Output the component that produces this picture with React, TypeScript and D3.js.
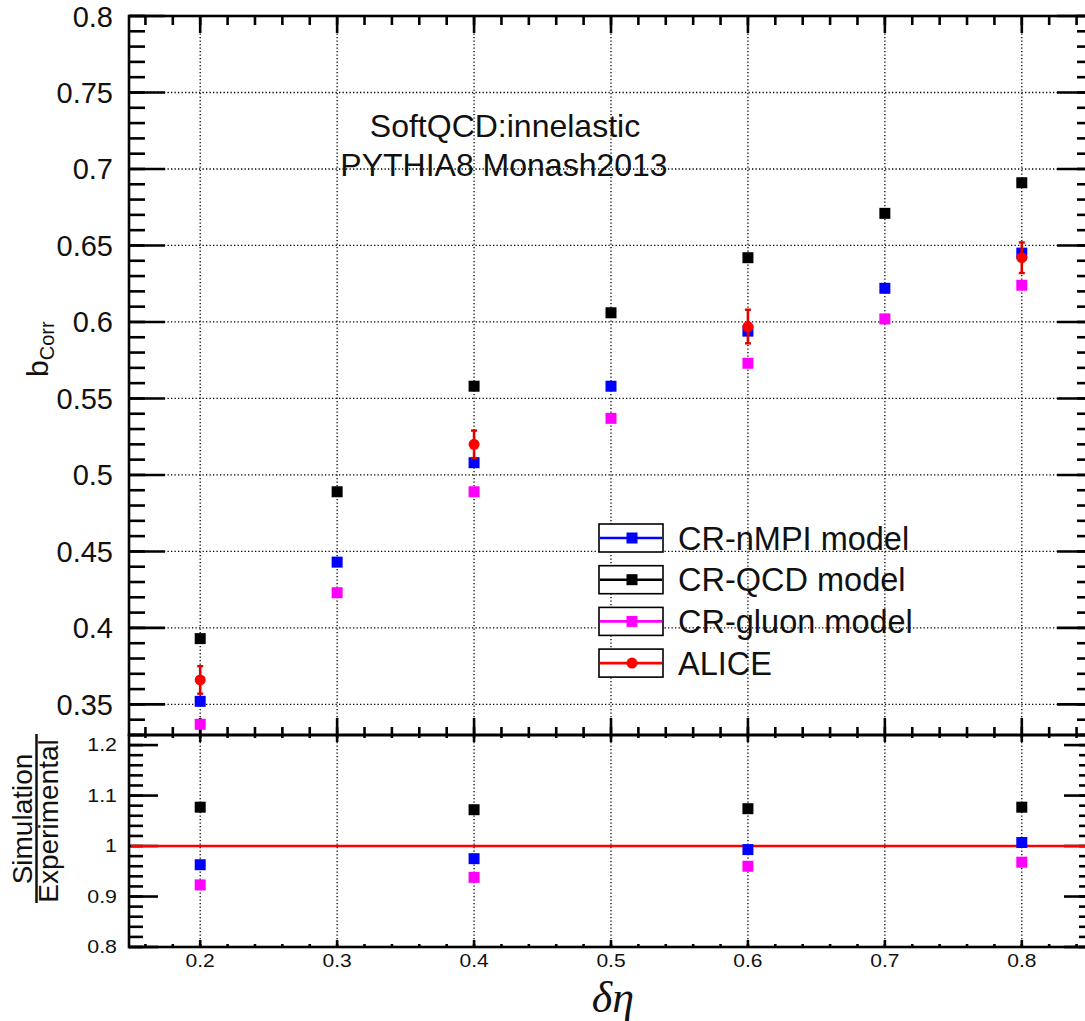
import React from "react";
import * as d3 from "d3";

const deltaEta = [0.2, 0.3, 0.4, 0.5, 0.6, 0.7, 0.8];
const crNMPI = [0.352, 0.443, 0.508, 0.558, 0.594, 0.622, 0.645];
const crQCD = [0.393, 0.489, 0.558, 0.606, 0.642, 0.671, 0.691];
const crGluon = [0.337, 0.423, 0.489, 0.537, 0.573, 0.602, 0.624];

const aliceEta = [0.2, 0.4, 0.6, 0.8];
const alice = [0.366, 0.52, 0.597, 0.642];
const aliceErr = [0.009, 0.009, 0.011, 0.01];

const ratioNMPI = [0.963, 0.975, 0.993, 1.007];
const ratioQCD = [1.077, 1.072, 1.074, 1.077];
const ratioGluon = [0.923, 0.938, 0.96, 0.968];

const xMajor = [0.2, 0.3, 0.4, 0.5, 0.6, 0.7, 0.8];
const xMinor = d3.range(16, 86, 2).map((v) => v / 100);
const yMajor = [0.35, 0.4, 0.45, 0.5, 0.55, 0.6, 0.65, 0.7, 0.75, 0.8];
const yMinor = d3.range(33, 81, 1).map((v) => v / 100);
const rMajor = [0.8, 0.9, 1.0, 1.1, 1.2];
const rMinor = d3.range(80, 123, 2).map((v) => v / 100);

const legendLabels = ["CR-nMPI model", "CR-QCD model", "CR-gluon model", "ALICE"];
const legendColors = ["#0000ff", "#000000", "#ff00ff", "#ff0000"];
const titleLines = ["SoftQCD:innelastic", "PYTHIA8 Monash2013"];

const FONT = "'Liberation Sans', Arial, Helvetica, sans-serif";

export default function App() {
  const W = 1085;
  const H = 1021;
  const x = d3.scaleLinear().domain([0.148, 0.852]).range([129, 1093]);
  const y = d3.scaleLinear().domain([0.33, 0.8]).range([735, 16]);
  const yr = d3.scaleLinear().domain([0.8, 1.22]).range([947, 735]);
  const fmt = d3.format("~g");
  const xL = x.range()[0];
  const xR = x.range()[1];
  const yTop = y.range()[1];
  const yMid = y.range()[0];
  const yBot = yr.range()[0];
  const sq = 11;
  const axisW = 2.6;

  const square = (cx: number, cy: number, color: string, key: string) => (
    <rect key={key} x={cx - sq / 2} y={cy - sq / 2} width={sq} height={sq} fill={color} />
  );

  return (
    <svg
      width={W}
      height={H}
      style={{ position: "absolute", left: 0, top: 0, background: "#fff" }}
      fontFamily={FONT}
    >
      <rect x={0} y={0} width={W} height={H} fill="#fff" />
      {/* grid */}
      <g stroke="#000" strokeWidth={1.3} strokeDasharray="1.3 2.2">
        {yMajor
          .filter((v) => v < 0.8)
          .map((v) => (
            <line key={"gy" + v} x1={xL} x2={xR} y1={y(v)} y2={y(v)} />
          ))}
        {xMajor.map((v) => (
          <line key={"gx" + v} x1={x(v)} x2={x(v)} y1={yTop} y2={yMid} />
        ))}
        {xMajor.map((v) => (
          <line key={"gxr" + v} x1={x(v)} x2={x(v)} y1={yMid} y2={yBot} />
        ))}
      </g>

      {/* ticks */}
      <g stroke="#000" strokeWidth={axisW}>
        {yMinor.map((v) => (
          <g key={"ymi" + v}>
            <line x1={xL} x2={xL + 16} y1={y(v)} y2={y(v)} />
            <line x1={xR} x2={xR - 16} y1={y(v)} y2={y(v)} />
          </g>
        ))}
        {yMajor.map((v) => (
          <g key={"yma" + v}>
            <line x1={xL} x2={xL + 36} y1={y(v)} y2={y(v)} />
            <line x1={xR} x2={xR - 36} y1={y(v)} y2={y(v)} />
          </g>
        ))}
        {xMinor.map((v) => (
          <g key={"xmi" + v}>
            <line x1={x(v)} x2={x(v)} y1={yTop} y2={yTop + 9} />
            <line x1={x(v)} x2={x(v)} y1={yMid} y2={yMid - 8} />
            <line x1={x(v)} x2={x(v)} y1={yMid} y2={yMid + 3} />
            <line x1={x(v)} x2={x(v)} y1={yBot} y2={yBot - 3} />
          </g>
        ))}
        {xMajor.map((v) => (
          <g key={"xma" + v}>
            <line x1={x(v)} x2={x(v)} y1={yTop} y2={yTop + 17} />
            <line x1={x(v)} x2={x(v)} y1={yMid} y2={yMid - 17} />
            <line x1={x(v)} x2={x(v)} y1={yMid} y2={yMid + 7} />
            <line x1={x(v)} x2={x(v)} y1={yBot} y2={yBot - 7} />
          </g>
        ))}
        {rMinor.map((v) => (
          <g key={"rmi" + v}>
            <line x1={xL} x2={xL + 14} y1={yr(v)} y2={yr(v)} />
            <line x1={xR} x2={xR - 14} y1={yr(v)} y2={yr(v)} />
          </g>
        ))}
        {rMajor.map((v) => (
          <g key={"rma" + v}>
            <line x1={xL} x2={xL + 29} y1={yr(v)} y2={yr(v)} />
            <line x1={xR} x2={xR - 29} y1={yr(v)} y2={yr(v)} />
          </g>
        ))}
      </g>

      {/* frames */}
      <rect x={xL} y={yTop} width={xR - xL} height={yMid - yTop} fill="none" stroke="#000" strokeWidth={axisW} />
      <rect x={xL} y={yMid} width={xR - xL} height={yBot - yMid} fill="none" stroke="#000" strokeWidth={axisW} />

      {/* tick labels main */}
      <g fontSize={29} fill="#111" textAnchor="end">
        {yMajor.map((v) => (
          <text key={"yl" + v} x={113} y={y(v) + 10.5}>
            {fmt(v)}
          </text>
        ))}
      </g>
      {/* ratio & x labels */}
      <g fontSize={17.5} fill="#111">
        {rMajor.map((v) => (
          <text key={"rl" + v} textAnchor="end" transform={`translate(117,${yr(v) + 6.3}) scale(1.22,1)`}>
            {fmt(v)}
          </text>
        ))}
        {xMajor.map((v) => (
          <text key={"xl" + v} textAnchor="middle" transform={`translate(${x(v)},967) scale(1.2,1)`}>
            {fmt(v)}
          </text>
        ))}
      </g>

      {/* axis titles */}
      <text transform="translate(48,377) rotate(-90)" fontSize={30} fill="#111">
        <tspan>b</tspan>
        <tspan fontSize={20} dy={6}>
          Corr
        </tspan>
      </text>
      <g fill="#111" fontSize={28}>
        <text transform="translate(32,819) rotate(-90)" textAnchor="middle">
          Simulation
        </text>
        <line x1={36.5} x2={36.5} y1={734} y2={903} stroke="#111" strokeWidth={2.5} />
        <text transform="translate(58,821) rotate(-90)" textAnchor="middle">
          Experimental
        </text>
      </g>
      <text
        x={613}
        y={1012}
        fontSize={44}
        fontStyle="italic"
        fontFamily="'Liberation Serif', 'DejaVu Serif', serif"
        textAnchor="middle"
        fill="#111"
      >
        δη
      </text>

      {/* title */}
      <g fontSize={32} fill="#111" textAnchor="middle">
        <text x={505} y={137}>
          {titleLines[0]}
        </text>
        <text x={504} y={176}>
          {titleLines[1]}
        </text>
      </g>

      {/* ratio reference line */}
      <line x1={xL + 2} x2={xR} y1={yr(1)} y2={yr(1)} stroke="#ff0000" strokeWidth={2.6} />

      {/* main points */}
      <g>
        {deltaEta.map((v, i) => square(x(v), y(crNMPI[i]), legendColors[0], "b" + i))}
        {deltaEta.map((v, i) => square(x(v), y(crQCD[i]), legendColors[1], "k" + i))}
        {deltaEta.map((v, i) => square(x(v), y(crGluon[i]), legendColors[2], "m" + i))}
        {aliceEta.map((v, i) => {
          const cx = x(v);
          const y1 = y(alice[i] + aliceErr[i]);
          const y2 = y(alice[i] - aliceErr[i]);
          return (
            <g key={"a" + i} stroke="#e00000" fill="#ff0000">
              <line x1={cx} x2={cx} y1={y1} y2={y2} strokeWidth={2.6} />
              <line x1={cx - 3} x2={cx + 3} y1={y1} y2={y1} strokeWidth={2.4} />
              <line x1={cx - 3} x2={cx + 3} y1={y2} y2={y2} strokeWidth={2.4} />
              <circle cx={cx} cy={y(alice[i])} r={5.5} stroke="none" />
            </g>
          );
        })}
      </g>

      {/* ratio points */}
      <g>
        {aliceEta.map((v, i) => square(x(v), yr(ratioQCD[i]), legendColors[1], "rk" + i))}
        {aliceEta.map((v, i) => square(x(v), yr(ratioNMPI[i]), legendColors[0], "rb" + i))}
        {aliceEta.map((v, i) => square(x(v), yr(ratioGluon[i]), legendColors[2], "rm" + i))}
      </g>

      {/* legend */}
      <g>
        {legendLabels.map((lab, i) => {
          const cy = 538 + i * 41.7;
          return (
            <g key={"lg" + i}>
              <rect x={599} y={cy - 14} width={64} height={28} fill="#fff" stroke="#000" strokeWidth={1.6} />
              <line x1={600} x2={662} y1={cy} y2={cy} stroke={legendColors[i]} strokeWidth={2.6} />
              {i < 3 ? (
                square(632, cy, legendColors[i], "lm" + i)
              ) : (
                <circle cx={632} cy={cy} r={5.5} fill="#ff0000" />
              )}
              <text x={678} y={cy + 11.5} fontSize={32.5} fill="#111">
                {lab}
              </text>
            </g>
          );
        })}
      </g>
    </svg>
  );
}
